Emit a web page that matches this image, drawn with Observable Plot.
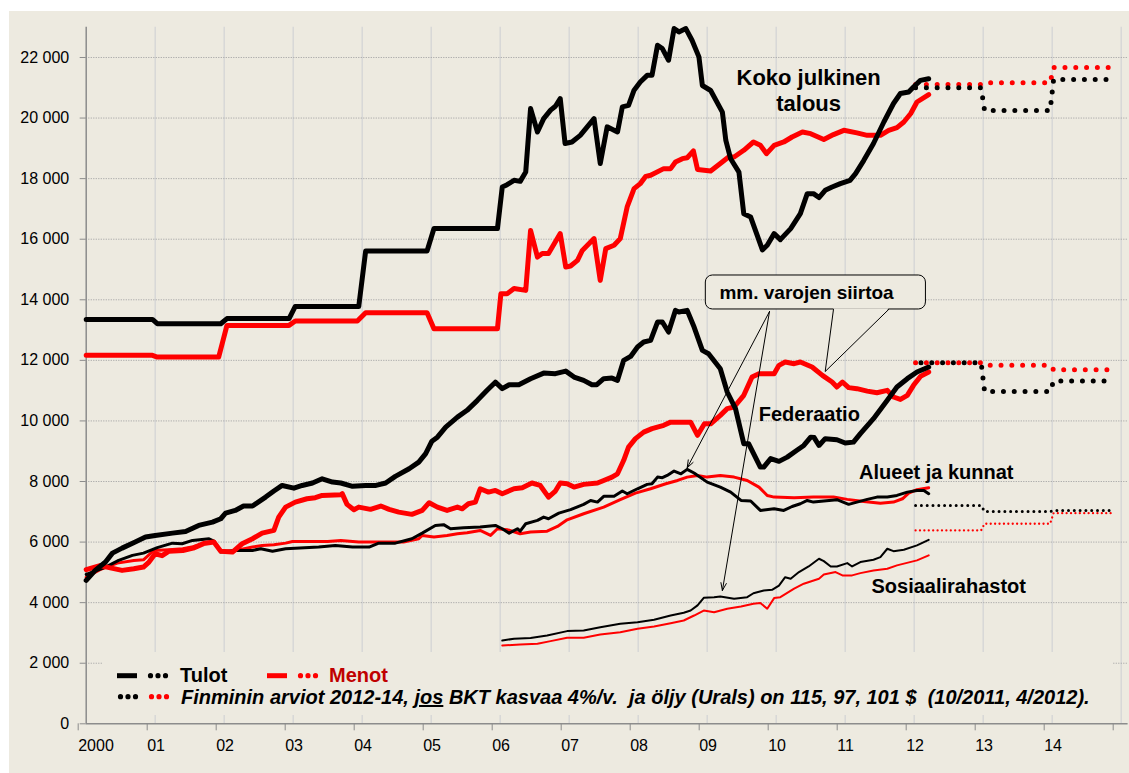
<!DOCTYPE html>
<html><head><meta charset="utf-8">
<script src="https://cdn.jsdelivr.net/npm/d3@7"></script>
<script src="https://cdn.jsdelivr.net/npm/@observablehq/plot@0.6"></script>
<style>
html,body{margin:0;padding:0;background:#fff;overflow:hidden;}
#wrap{position:relative;width:1129px;height:773px;overflow:hidden;font-family:"Liberation Sans",Arial,sans-serif;}
#bg{position:absolute;left:9px;top:11px;right:0;bottom:0;background:#EDEAE0;}
#chart{position:absolute;left:0;top:0;width:1129px;height:773px;}
#legend{position:absolute;left:103px;top:652px;width:1010px;height:63px;background:#EDEAE0;}
.lt{position:absolute;font:bold 20px/20px "Liberation Sans",Arial,sans-serif;white-space:nowrap;color:#000;}
.it{font-style:italic;}
</style></head>
<body>
<div id="wrap">
  <div id="bg"></div>
  <div id="chart"></div>
  <div id="legend">
    <svg width="1010" height="63" style="position:absolute;left:0;top:0">
      <line x1="14" x2="34" y1="23.7" y2="23.7" stroke="#000" stroke-width="5"/>
      <circle cx="47.5" cy="23.7" r="2.6" fill="#000"/><circle cx="55" cy="23.7" r="2.6" fill="#000"/><circle cx="62.5" cy="23.7" r="2.6" fill="#000"/>
      <line x1="164" x2="184" y1="23.7" y2="23.7" stroke="#FF0000" stroke-width="5"/>
      <circle cx="197.5" cy="23.7" r="2.6" fill="#FF0000"/><circle cx="205" cy="23.7" r="2.6" fill="#FF0000"/><circle cx="212.5" cy="23.7" r="2.6" fill="#FF0000"/>
      <circle cx="17.5" cy="44.7" r="2.6" fill="#000"/><circle cx="25" cy="44.7" r="2.6" fill="#000"/><circle cx="32.5" cy="44.7" r="2.6" fill="#000"/>
      <circle cx="48.5" cy="44.7" r="2.6" fill="#FF0000"/><circle cx="56" cy="44.7" r="2.6" fill="#FF0000"/><circle cx="63.5" cy="44.7" r="2.6" fill="#FF0000"/>
    </svg>
    <div class="lt" style="left:77px;top:12.8px">Tulot</div>
    <div class="lt" style="left:226px;top:12.8px;color:#C00000">Menot</div>
    <div class="lt it" style="left:78px;top:35.1px">Finminin arviot 2012-14, <u>jos</u> BKT kasvaa 4%/v.&nbsp; ja öljy (Urals) on 115, 97, 101 $&nbsp; (10/2011, 4/2012).</div>
  </div>
</div>
<script>
// ---- Data (year, million roubles) ----
const kokoTulot = [[2000.0,13350],[2000.96,13350],[2001.03,13210],[2001.95,13210],[2002.04,13380],[2002.94,13380],[2003.03,13780],[2003.95,13780],[2004.05,15610],[2004.94,15610],[2005.04,16350],[2005.96,16350],[2006.03,17725],[2006.1,17800],[2006.2,17945],[2006.29,17910],[2006.37,18220],[2006.44,20315],[2006.54,19540],[2006.63,19980],[2006.73,20260],[2006.8,20390],[2006.87,20645],[2006.94,19160],[2007.04,19210],[2007.16,19430],[2007.36,19980],[2007.45,18500],[2007.55,19710],[2007.7,19540],[2007.77,20370],[2007.86,20420],[2007.94,20920],[2008.03,21190],[2008.13,21410],[2008.2,21410],[2008.28,22405],[2008.35,22295],[2008.44,21910],[2008.52,22955],[2008.59,22845],[2008.69,22955],[2008.78,22570],[2008.88,22020],[2008.93,21075],[2009.05,20910],[2009.22,20195],[2009.27,19260],[2009.34,18655],[2009.46,18215],[2009.53,16840],[2009.63,16730],[2009.8,15650],[2009.87,15800],[2009.97,16185],[2010.06,15985],[2010.21,16350],[2010.35,16845],[2010.45,17505],[2010.54,17505],[2010.62,17375],[2010.71,17615],[2010.81,17725],[2010.93,17835],[2011.07,17945],[2011.15,18165],[2011.27,18605],[2011.41,19160],[2011.56,19870],[2011.7,20480],[2011.8,20810],[2011.92,20860],[2011.99,21025],[2012.09,21245],[2012.21,21300]];
const kokoMenot = [[2000.0,12165],[2000.96,12165],[2001.03,12110],[2001.92,12110],[2002.04,13155],[2002.94,13155],[2003.03,13300],[2003.93,13300],[2004.05,13575],[2004.94,13575],[2005.04,13045],[2005.96,13045],[2006.01,14200],[2006.1,14200],[2006.2,14370],[2006.37,14310],[2006.44,16290],[2006.54,15410],[2006.61,15525],[2006.7,15525],[2006.87,16185],[2006.95,15080],[2007.02,15115],[2007.12,15300],[2007.19,15630],[2007.36,16020],[2007.45,14640],[2007.53,15690],[2007.65,15800],[2007.74,16020],[2007.84,17065],[2007.94,17670],[2008.03,17835],[2008.11,18075],[2008.18,18110],[2008.37,18330],[2008.47,18330],[2008.54,18550],[2008.64,18660],[2008.71,18690],[2008.8,18915],[2008.86,18300],[2009.05,18250],[2009.19,18500],[2009.31,18715],[2009.39,18715],[2009.53,18935],[2009.67,19210],[2009.77,19100],[2009.86,18825],[2009.97,19100],[2010.11,19210],[2010.23,19375],[2010.38,19540],[2010.5,19485],[2010.69,19290],[2010.83,19455],[2010.98,19595],[2011.17,19510],[2011.32,19430],[2011.51,19430],[2011.63,19595],[2011.75,19685],[2011.85,19870],[2011.95,20150],[2012.04,20530],[2012.21,20775]];
const fedTulot = [[2000.0,4735],[2000.13,5065],[2000.28,5340],[2000.38,5635],[2000.52,5800],[2000.71,6000],[2000.86,6165],[2001.0,6220],[2001.25,6295],[2001.44,6350],[2001.63,6550],[2001.83,6660],[2001.95,6770],[2002.02,6955],[2002.16,7045],[2002.28,7190],[2002.41,7190],[2002.6,7485],[2002.72,7685],[2002.84,7870],[2003.01,7780],[2003.13,7870],[2003.28,7950],[2003.42,8090],[2003.57,7980],[2003.69,7950],[2003.86,7840],[2004.05,7870],[2004.2,7870],[2004.34,7950],[2004.48,8170],[2004.68,8420],[2004.82,8640],[2004.92,8920],[2005.01,9330],[2005.09,9465],[2005.21,9795],[2005.38,10125],[2005.52,10350],[2005.67,10680],[2005.81,11010],[2005.93,11280],[2006.03,11065],[2006.13,11195],[2006.27,11195],[2006.44,11395],[2006.63,11580],[2006.8,11560],[2006.95,11645],[2007.07,11450],[2007.21,11340],[2007.33,11195],[2007.4,11195],[2007.5,11395],[2007.62,11415],[2007.7,11340],[2007.79,12000],[2007.89,12130],[2007.99,12440],[2008.08,12605],[2008.18,12660],[2008.28,13265],[2008.35,13265],[2008.44,12935],[2008.54,13650],[2008.59,13595],[2008.71,13650],[2008.81,13100],[2008.93,12330],[2009.02,12220],[2009.19,11725],[2009.29,10955],[2009.41,10405],[2009.53,9250],[2009.6,9250],[2009.77,8475],[2009.82,8475],[2009.92,8755],[2010.04,8665],[2010.16,8805],[2010.3,9030],[2010.4,9190],[2010.5,9465],[2010.55,9450],[2010.62,9190],[2010.71,9415],[2010.88,9380],[2011.0,9270],[2011.12,9300],[2011.22,9580],[2011.41,10075],[2011.61,10680],[2011.75,11120],[2011.9,11395],[2012.04,11615],[2012.21,11780]];
const fedMenot = [[2000.0,5090],[2000.2,5225],[2000.35,5150],[2000.52,5065],[2000.69,5120],[2000.83,5175],[2000.91,5340],[2001.0,5615],[2001.1,5550],[2001.2,5700],[2001.4,5720],[2001.55,5800],[2001.7,5950],[2001.85,6000],[2001.95,5700],[2002.12,5670],[2002.26,5945],[2002.41,6110],[2002.55,6295],[2002.72,6385],[2002.79,6825],[2002.89,7155],[2003.03,7320],[2003.2,7430],[2003.32,7465],[2003.42,7540],[2003.69,7565],[2003.71,7600],[2003.78,7245],[2003.88,7070],[2003.95,7155],[2004.12,7080],[2004.27,7190],[2004.39,7080],[2004.53,6990],[2004.72,6915],[2004.87,7045],[2004.97,7300],[2005.09,7155],[2005.23,7045],[2005.38,7155],[2005.45,7100],[2005.54,7265],[2005.64,7320],[2005.71,7760],[2005.83,7650],[2005.93,7705],[2006.03,7595],[2006.2,7760],[2006.32,7795],[2006.46,7950],[2006.58,7870],[2006.7,7485],[2006.8,7685],[2006.87,7950],[2006.97,7925],[2007.07,7815],[2007.21,7905],[2007.41,7950],[2007.5,8035],[2007.62,8145],[2007.7,8255],[2007.79,8700],[2007.86,9135],[2007.96,9415],[2008.08,9630],[2008.2,9745],[2008.37,9855],[2008.47,9960],[2008.76,9960],[2008.86,9525],[2008.96,9905],[2009.05,9905],[2009.19,10185],[2009.29,10405],[2009.39,10460],[2009.53,10845],[2009.65,11450],[2009.75,11560],[2009.97,11560],[2010.04,11835],[2010.13,11945],[2010.26,11890],[2010.35,11945],[2010.52,11780],[2010.67,11505],[2010.81,11285],[2010.88,11120],[2010.96,11285],[2011.05,11100],[2011.17,11065],[2011.32,10985],[2011.46,10930],[2011.61,11010],[2011.7,10790],[2011.8,10710],[2011.9,10845],[2011.99,11175],[2012.09,11470],[2012.21,11615]];
const aluTulot = [[2000.0,4930],[2000.28,5175],[2000.47,5395],[2000.67,5560],[2000.83,5635],[2001.03,5815],[2001.25,5965],[2001.39,5945],[2001.54,6055],[2001.78,6110],[2001.85,6030],[2001.95,5670],[2002.16,5725],[2002.41,5725],[2002.53,5780],[2002.7,5700],[2002.89,5780],[2003.37,5835],[2003.61,5890],[2003.86,5835],[2004.1,5835],[2004.24,5965],[2004.48,5965],[2004.72,6110],[2004.87,6295],[2005.06,6550],[2005.18,6575],[2005.28,6440],[2005.47,6475],[2005.71,6495],[2005.93,6550],[2006.03,6440],[2006.13,6295],[2006.25,6440],[2006.29,6360],[2006.37,6605],[2006.54,6715],[2006.63,6825],[2006.7,6770],[2006.85,6955],[2007.02,7070],[2007.21,7245],[2007.31,7375],[2007.41,7320],[2007.5,7510],[2007.65,7510],[2007.77,7685],[2007.84,7595],[2007.99,7760],[2008.13,7905],[2008.2,7925],[2008.28,8145],[2008.35,8125],[2008.42,8200],[2008.52,8345],[2008.62,8255],[2008.71,8400],[2008.81,8280],[2009.0,7980],[2009.19,7815],[2009.34,7650],[2009.49,7375],[2009.63,7355],[2009.77,7045],[2009.97,7100],[2010.11,7045],[2010.23,7175],[2010.35,7265],[2010.45,7375],[2010.54,7320],[2010.69,7355],[2010.88,7400],[2011.05,7245],[2011.17,7320],[2011.32,7410],[2011.46,7485],[2011.61,7485],[2011.75,7540],[2011.9,7650],[2012.04,7705],[2012.14,7705],[2012.21,7595]];
const aluMenot = [[2000.0,4840],[2000.2,5090],[2000.45,5305],[2000.69,5395],[2000.83,5415],[2000.98,5725],[2001.2,5750],[2001.4,5780],[2001.55,5850],[2001.7,5950],[2001.85,6030],[2001.95,5700],[2002.12,5700],[2002.41,5835],[2002.55,5890],[2002.72,5910],[2002.89,5965],[2002.99,6020],[2003.5,6020],[2003.69,6055],[2003.95,6000],[2004.6,6000],[2004.82,6110],[2004.87,6220],[2005.04,6165],[2005.23,6220],[2005.38,6275],[2005.52,6310],[2005.71,6385],[2005.86,6220],[2005.96,6440],[2006.1,6410],[2006.29,6275],[2006.44,6330],[2006.68,6360],[2006.83,6515],[2006.97,6735],[2007.21,6935],[2007.5,7155],[2007.74,7400],[2007.96,7615],[2008.18,7760],[2008.4,7925],[2008.57,8035],[2008.71,8145],[2008.86,8200],[2009.0,8145],[2009.19,8200],[2009.39,8145],[2009.58,8035],[2009.75,7815],[2009.87,7540],[2009.97,7485],[2010.26,7465],[2010.54,7485],[2010.83,7485],[2011.03,7410],[2011.27,7340],[2011.51,7285],[2011.7,7320],[2011.83,7430],[2011.92,7615],[2012.04,7730],[2012.21,7795]];
const sosTulot = [[2006.03,2750],[2006.2,2810],[2006.44,2830],[2006.68,2915],[2006.97,3060],[2007.21,3080],[2007.45,3190],[2007.74,3300],[2007.99,3355],[2008.23,3435],[2008.47,3575],[2008.66,3665],[2008.76,3740],[2008.86,3910],[2008.95,4160],[2009.1,4180],[2009.19,4205],[2009.39,4130],[2009.58,4180],[2009.67,4310],[2009.82,4400],[2009.94,4425],[2010.04,4565],[2010.13,4840],[2010.21,4790],[2010.33,5010],[2010.47,5195],[2010.62,5450],[2010.69,5370],[2010.79,5195],[2010.88,5195],[2011.03,5305],[2011.1,5195],[2011.22,5340],[2011.41,5415],[2011.51,5505],[2011.61,5780],[2011.7,5700],[2011.85,5745],[2012.04,5890],[2012.21,6075]];
const sosMenot = [[2006.03,2585],[2006.29,2620],[2006.54,2640],[2006.73,2730],[2006.97,2840],[2007.21,2840],[2007.45,2950],[2007.74,3025],[2007.99,3140],[2008.23,3215],[2008.47,3320],[2008.66,3410],[2008.81,3575],[2008.95,3740],[2009.1,3685],[2009.29,3800],[2009.49,3875],[2009.67,3965],[2009.77,3990],[2009.87,3800],[2009.97,4150],[2010.06,4180],[2010.26,4460],[2010.4,4625],[2010.62,4790],[2010.69,4930],[2010.86,5010],[2010.96,4900],[2011.1,4900],[2011.22,4975],[2011.41,5065],[2011.61,5120],[2011.75,5230],[2012.04,5395],[2012.21,5560]];

// Finmin forecasts 2012-14 (annual levels)
const forecastYears = [2012, 2013, 2014];
const kokoTulotF = [21000, 20250, 21270];
const kokoMenotF = [21105, 21170, 21670];
const fedTulotF = [11925, 10975, 11315];
const fedMenotF = [11925, 11835, 11690];
const aluTulotF = [7210, 7010, 7045];
const aluMenotF = [6385, 6605, 6955];

// axes
const xTicks = d3.range(2000, 2016);
const yTicks = d3.range(0, 23000, 2000);

// annotations (data coordinates)
const labelsBig = [{x: 2010.47, y: 20923, text: "Koko julkinen\ntalous"}];
const labels = [
  {x: 2010.48, y: 10212, text: "Federaatio"},
  {x: 2012.32, y: 8307, text: "Alueet ja kunnat"},
  {x: 2012.50, y: 4524, text: "Sosiaalirahastot"}
];
const callout = {x1: 2008.98, x2: 2012.17, y1: 13680, y2: 14802, text: "mm. varojen siirtoa", tx: 2010.44, ty: 14233};
const tail = [[2010.83, 13680], [2010.71, 11632], [2011.63, 13680]];
const arrows = [
  {x1: 2009.903, y1: 13613, x2: 2008.71, y2: 8453},
  {x1: 2009.903, y1: 13613, x2: 2009.22, y2: 4401}
];

// ---- helpers ----
const rows = pts => pts.map(([x, y]) => ({x, y}));
const steps = vals => vals.flatMap((v, i) => {
  const yr = forecastYears[i];
  return [{x: yr + 0.02, y: v}, {x: yr + (i === vals.length - 1 ? 0.88 : 0.97), y: v}];
});
const fmtY = d3.formatLocale({decimal: ",", thousands: " ", grouping: [3], currency: ["", ""]}).format(",d");
const fmtX = d => d === 2000 ? "2000" : d >= 2015 ? "" : String(d - 2000).padStart(2, "0");

const BLACK = "#000000", RED = "#FF0000", BEIGE = "#EDEAE0", AXIS = "#8c8c8c";
const thick = (data, stroke) => Plot.line(rows(data), {x: "x", y: "y", stroke, strokeWidth: 5, strokeLinejoin: "round", strokeLinecap: "round"});
const thin = (data, stroke, w) => Plot.line(rows(data), {x: "x", y: "y", stroke, strokeWidth: w, strokeLinejoin: "round", strokeLinecap: "round"});
const dotsBig = (vals, stroke, off) => Plot.line(steps(vals), {x: "x", y: "y", stroke, strokeWidth: 5, strokeLinecap: "round", strokeDasharray: "0 10.8", strokeDashoffset: off});
const dotsSmall = (vals, stroke, w, gap) => Plot.line(steps(vals), {x: "x", y: "y", stroke, strokeWidth: w, strokeLinecap: "round", strokeDasharray: `0 ${gap}`});

const chart = Plot.plot({
  width: 1129, height: 773,
  marginLeft: 85.7, marginRight: 8.3, marginTop: 26.7, marginBottom: 49.7,
  x: {domain: [2000, 2015], axis: null},
  y: {domain: [0, 23000], axis: null},
  style: {background: "transparent", fontFamily: "'Liberation Sans', Arial, sans-serif", color: "#000", overflow: "visible"},
  marks: [
    Plot.ruleX(xTicks.slice(1), {y1: 0, y2: 23000, stroke: "#d6d6d6", strokeWidth: 1.4}),
    Plot.ruleY(yTicks.slice(1), {x1: 2000, x2: 2015.1, stroke: "#a8a8a8", strokeWidth: 1, strokeDasharray: "1.2,1.3"}),
    Plot.ruleX([2000], {y1: 0, y2: 23000, stroke: AXIS, strokeWidth: 1.5}),
    Plot.ruleY([0], {x1: 2000, x2: 2015.1, stroke: AXIS, strokeWidth: 1.5}),
    Plot.axisY(yTicks, {tickSize: 6, tickPadding: 11, fontSize: 16, tickFormat: fmtY, stroke: AXIS, fill: "#000"}),
    Plot.axisX(xTicks, {tickSize: 7, tickPadding: 9, fontSize: 16, tickFormat: fmtX, stroke: AXIS, fill: "#000", textAnchor: "start", dx: -8}),

    // forecasts
    dotsBig(kokoMenotF, RED, 0),
    dotsBig(kokoTulotF, BLACK, 0),
    dotsBig(fedMenotF, RED, 0),
    dotsBig(fedTulotF, BLACK, 5.4),
    dotsSmall(aluMenotF, RED, 2.3, 4.4),
    dotsSmall(aluTulotF, BLACK, 3, 5.8),

    // history
    thin(sosMenot, RED, 2),
    thin(sosTulot, BLACK, 2),
    thin(aluMenot, RED, 3),
    thin(aluTulot, BLACK, 3),
    thick(fedMenot, RED),
    thick(fedTulot, BLACK),
    thick(kokoMenot, RED),
    thick(kokoTulot, BLACK),

    // callout
    Plot.arrow(arrows, {x1: "x1", y1: "y1", x2: "x2", y2: "y2", stroke: BLACK, strokeWidth: 1, headLength: 12, headAngle: 40}),
    Plot.rect([callout], {x1: "x1", x2: "x2", y1: "y1", y2: "y2", fill: BEIGE, stroke: BLACK, strokeWidth: 1, rx: 7}),
    Plot.line([[tail[0][0], tail[0][1] + 40], tail[1], [tail[2][0], tail[2][1] + 40]], {fill: BEIGE, stroke: "none"}),
    Plot.line(tail, {stroke: BLACK, strokeWidth: 1}),
    Plot.text([callout], {x: "tx", y: "ty", text: "text", fontSize: 19, fontWeight: "bold", fill: BLACK}),

    // labels
    Plot.text(labelsBig, {x: "x", y: "y", text: "text", fontSize: 22, fontWeight: "bold", lineHeight: 1.18, fill: BLACK}),
    Plot.text(labels, {x: "x", y: "y", text: "text", fontSize: 20, fontWeight: "bold", fill: BLACK})
  ]
});
document.getElementById("chart").appendChild(chart);
</script>
</body></html>
